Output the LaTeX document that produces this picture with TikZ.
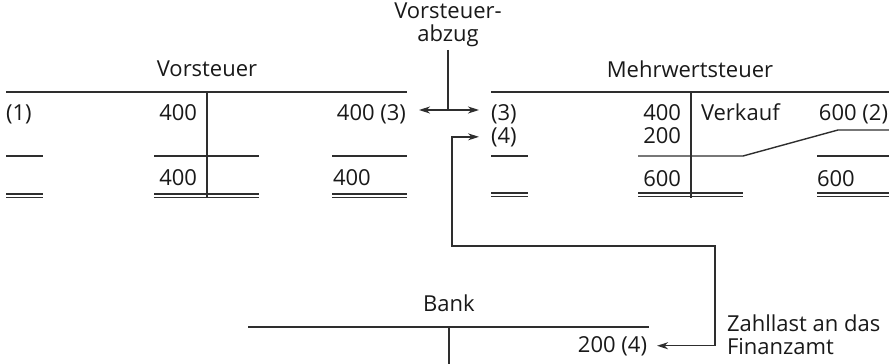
\documentclass[tikz,border=0pt]{standalone}
\usepackage{fontspec}
\setmainfont{Open Sans}
\usetikzlibrary{arrows.meta, calc}

\begin{document}
\begin{tikzpicture}[
    x=1pt, y=-1pt,
    txt/.style={inner sep=0pt, outer sep=0pt, text=black!90,
                font=\fontsize{22}{25}\selectfont},
    rtxt/.style={txt, anchor=base east},
    ltxt/.style={txt, anchor=base west},
    ctxt/.style={txt, anchor=base},
    tline/.style={line width=1.4pt, draw=black!82},
    arr/.style={tline, -{Stealth[length=11pt, width=7pt, inset=3.5pt]}},
    arrboth/.style={tline, {Stealth[length=11pt, width=7pt, inset=3.5pt]}-{Stealth[length=11pt, width=7pt, inset=3.5pt]}}
]
\useasboundingbox (0,0) rectangle (889,364);

%% ── Vorsteuer ───────────────────────────────────────────────────────────────
\node[ctxt] (vstitle) at (207,76)  {Vorsteuer};
\node[ltxt] (vs1)     at (6,120)   {(1)};
\node[rtxt] (vsa)     at (197,120) {400};
\node[rtxt] (vs3)     at (406,120) {400 (3)};
\node[rtxt] (vssum)   at (197,185) {400};
\node[ltxt] (vssumh)  at (333,185) {400};

\draw[tline] (6,92) -- (407,92);
\draw[tline] (207,92) -- (207,198);
% Summenstriche
\foreach \xa/\xb in {6/43, 154/259, 332/407} {
    \draw[tline] (\xa,156) -- (\xb,156);
    \draw[tline] (\xa,194) -- (\xb,194);
    \draw[tline] (\xa,197.5) -- (\xb,197.5);
}

%% ── Mehrwertsteuer ──────────────────────────────────────────────────────────
\node[ctxt] (mwtitle) at (690,77)  {Mehrwertsteuer};
\node[ltxt] (mw3)     at (491,120) {(3)};
\node[ltxt] (mw4)     at (491,143) {(4)};
\node[rtxt] (mwa)     at (681,120) {400};
\node[rtxt] (mwb)     at (681,143) {200};
\node[ltxt] (mwv)     at (701,120) {Verkauf};
\node[rtxt] (mw2)     at (888,120) {600 (2)};
\node[rtxt] (mwsum)   at (681,186) {600};
\node[ltxt] (mwsumh)  at (817,186) {600};

\draw[tline] (491,92) -- (889,92);
\draw[tline] (691,92) -- (691,198);
% Summenstriche
\draw[tline] (491,156) -- (528,156);
\draw[tline] (638,156) -- (743,156) -- (838,130) -- (889,130);
\draw[tline] (817,156) -- (889,156);
\foreach \xa/\xb in {491/528, 638/743, 817/889} {
    \draw[tline] (\xa,193) -- (\xb,193);
    \draw[tline] (\xa,196.5) -- (\xb,196.5);
}

%% ── Bank ────────────────────────────────────────────────────────────────────
\node[ctxt] (bktitle) at (449,311) {Bank};
\node[rtxt] (bk4)     at (647,352) {200 (4)};

\draw[tline] (248,327) -- (649,327);
\draw[tline] (449,327) -- (449,364);

%% ── Vorsteuerabzug ──────────────────────────────────────────────────────────
\node[txt, align=center, anchor=north] (vabzug) at (448,3)
      {Vorsteuer-\\[-2pt]abzug};
\coordinate (jn) at (448,110);

\draw[tline] ([yshift=-3pt]vabzug.south) -- (jn);
\draw[arr, shorten >=13pt] (jn) -- (jn -| vs3.east);
\draw[arr, shorten >=12pt] (jn) -- (jn -| mw3.west);

%% ── Zahllast ────────────────────────────────────────────────────────────────
\node[txt, align=left, anchor=north west] (zahl) at (727,315)
      {Zahllast an das\\[-2pt]Finanzamt};
\coordinate (zlA) at (452,246);
\coordinate (zlB) at (715,246);

\draw[arrboth, shorten <=12pt, shorten >=10pt]
      (mw4.west) -| (zlA) -- (zlB) |- (bk4.east);

\end{tikzpicture}
\end{document}
